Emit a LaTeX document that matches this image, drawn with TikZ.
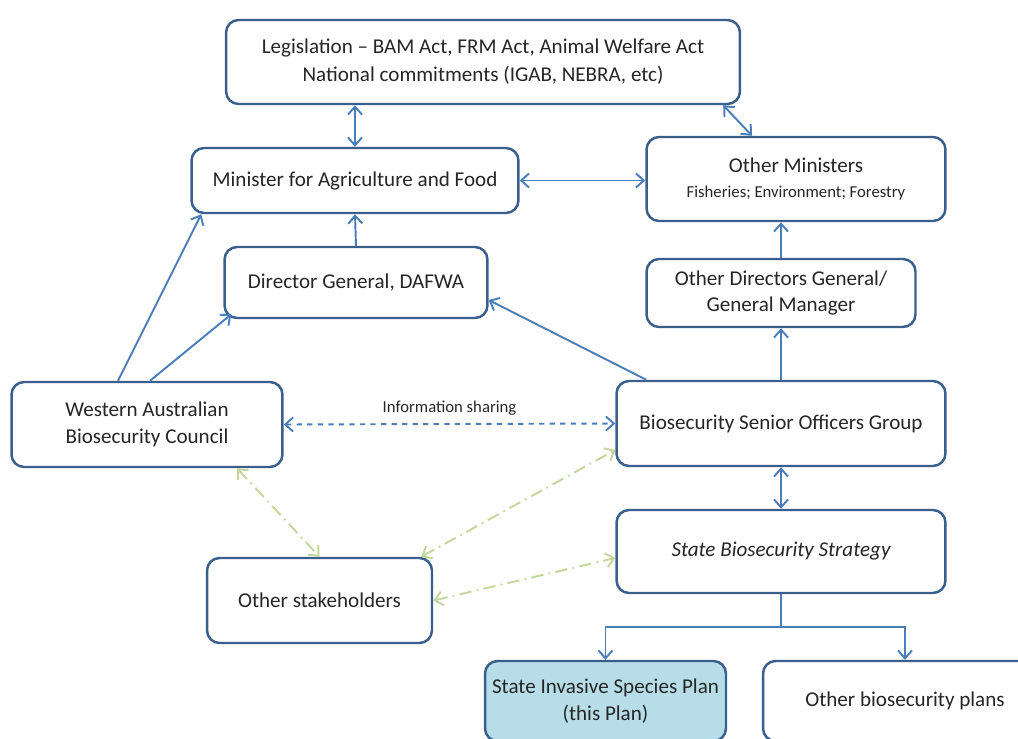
\documentclass[tikz,border=0pt]{standalone}
\usepackage{fontspec}
\setmainfont{Carlito}
\usetikzlibrary{arrows.meta}
\definecolor{boxline}{HTML}{3A5F8C}
\definecolor{linkblue}{HTML}{4A7EBB}
\definecolor{linkgreen}{HTML}{C3D69B}
\definecolor{planfill}{HTML}{B7DDE8}
\begin{document}
\begin{tikzpicture}[x=0.02cm,y=-0.02cm,
    box/.style={shape=rectangle,draw=boxline,line width=1.4pt,rounded corners=0.25cm,fill=white,align=center,font=\fontsize{12}{15}\selectfont,text=black!85},
    link/.style={draw=linkblue,line width=1.1pt},
    >={Straight Barb[length=4.5pt,width=8pt]},
    greenlink/.style={draw=linkgreen,line width=1.1pt,dash pattern=on 7pt off 3pt on 1pt off 3pt}]
        \useasboundingbox (0,0) rectangle (1018,738);
        \node[box,minimum width=10.28cm,minimum height=1.68cm] (legis) at (483,62) {Legislation -- BAM Act, FRM Act, Animal Welfare Act\\[1pt]National commitments (IGAB, NEBRA, etc)};
        \node[box,minimum width=5.98cm,minimum height=1.68cm] (otherMin) at (796,179) {Other Ministers\\[-1pt]{\fontsize{9.5}{11}\selectfont Fisheries; Environment; Forestry}};
        \node[box,minimum width=6.54cm,minimum height=1.3cm] (minister) at (355,180.5) {Minister for Agriculture and Food};
        \node[box,minimum width=5.26cm,minimum height=1.42cm] (dg) at (356,282.5) {Director General, DAFWA};
        \node[box,minimum width=5.38cm,minimum height=1.36cm] (otherDg) at (781,293) {Other Directors General/\\General Manager};
        \node[box,minimum width=5.42cm,minimum height=1.7cm] (council) at (147,424.5) {Western Australian\\Biosecurity Council};
        \node[box,minimum width=6.58cm,minimum height=1.7cm] (bsog) at (781,423.5) {Biosecurity Senior Officers Group};
        \node[box,minimum width=6.58cm,minimum height=1.66cm] (strategy) at (781,551.5) {\itshape State Biosecurity Strategy};
        \node[box,minimum width=4.5cm,minimum height=1.7cm] (stake) at (319.5,600.5) {Other stakeholders};
        \node[box,fill=planfill,minimum width=4.82cm,minimum height=1.6cm] (sisp) at (605.5,701) {State Invasive Species Plan\\(this Plan)};
        \node[box,minimum width=5.68cm,minimum height=1.6cm] (otherPlans) at (905,701) {Other biosecurity plans};
        \coordinate (fork) at (781,627);
        \draw[link] (minister.north) edge[<->] (minister.north |- legis.south);
        \draw[link] ([xshift=-0.36cm]legis.south east) edge[<->] ([xshift=-0.88cm]otherMin.north);
        \draw[link] (minister.east) edge[<->] (minister.east -| otherMin.west);
        \draw[link] (dg.north) edge[->] (minister.south);
        \draw[link] (otherDg.north) edge[->] (otherDg.north |- otherMin.south);
        \draw[link] (bsog.north) edge[->] (otherDg.south);
        \draw[link] ([xshift=0.62cm]bsog.north west) edge[->] ([yshift=-0.35cm]dg.east);
        \draw[link] ([xshift=-0.58cm]council.north) edge[->] ([xshift=0.22cm]minister.south west);
        \draw[link] ([xshift=0.06cm]council.north) edge[->] ([xshift=0.16cm,yshift=0.1cm]dg.south west);
        \draw[link,dashed] (council.east) edge[<->] node[above,font=\fontsize{9.5}{11}\selectfont,text=black!85,yshift=1pt] {Information sharing} (bsog.west);
        \draw[link] (bsog.south) edge[<->] (strategy.north);
        \draw[greenlink] ([xshift=1.8cm]council.south) edge[<->] (stake.north);
        \draw[greenlink] ([xshift=-0.24cm]stake.north east) edge[<->] ([yshift=-0.53cm]bsog.west);
        \draw[greenlink] (stake.east) edge[<->] ([yshift=-0.13cm]strategy.west);
        \draw[link] (strategy.south) -- (fork);
        \draw[link,->] (fork) -| (sisp.north);
        \draw[link,->] (fork) -| (otherPlans.north);
      \end{tikzpicture}
\end{document}
